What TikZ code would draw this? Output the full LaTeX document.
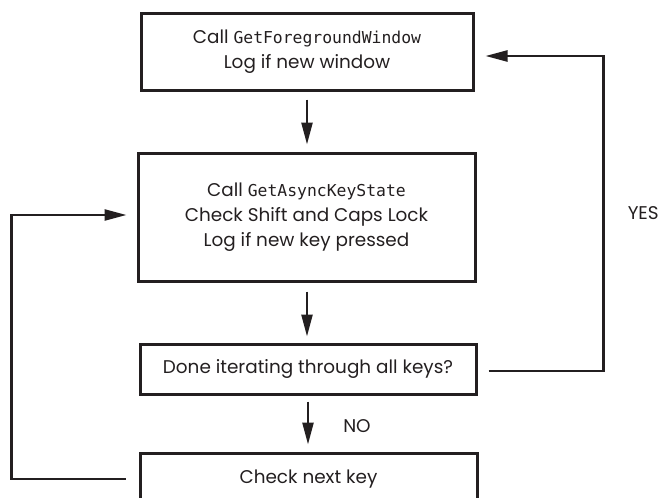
\documentclass[tikz,border=0pt]{standalone}
\usepackage{fontspec}
\setmainfont{Poppins}
\setmonofont{DejaVu Sans Mono}
\usetikzlibrary{calc,arrows.meta}
\definecolor{inkblack}{RGB}{35, 31, 32}
\newcommand{\apiname}[1]{{\ttfamily\fontsize{8.2}{12.5}\selectfont #1}}

\begin{document}
\begin{tikzpicture}[x=0.5pt, y=-0.5pt, inkblack,
    flowbox/.style={draw, line width=1.5pt, align=center, inner sep=0pt, font=\fontsize{9.2}{12.5}\selectfont},
    flow/.style={line width=1.25pt, -{Triangle[length=11pt, width=5.5pt]}},
    flowlabel/.style={inner sep=0pt, font=\fontsize{9.2}{12.5}\selectfont}]
    \useasboundingbox (0,0) rectangle (660,498);
    \clip (0,0) rectangle (660,498);
    \node (getfg) at (307,51.5) [flowbox, minimum width=166pt, minimum height=38.5pt] {Call \apiname{GetForegroundWindow}\\Log if new window};
    \node (getkey) at (306.5,217) [flowbox, minimum width=168.5pt, minimum height=64pt] {Call \apiname{GetAsyncKeyState}\\Check Shift and Caps Lock\\Log if new key pressed};
    \node (done) at (308,369) [flowbox, minimum width=168pt, minimum height=25pt] {Done iterating through all keys?};
    \node (next) at (308.5,479) [flowbox, minimum width=168.5pt, minimum height=26pt] {Check next key};
    \draw[flow, shorten <=4pt, shorten >=3.5pt] (getfg.south) -- (getfg.south |- getkey.north);
    \draw[flow, shorten <=4.5pt, shorten >=3pt] (getfg.south |- getkey.south) -- (getfg.south |- done.north);
    \draw[flow, shorten <=3pt, shorten >=3.5pt] (done.south) -- (done.south |- next.north)
        node[pos=0.55, right=17pt, flowlabel] (nolabel) {NO};
    \draw[flow, shorten <=5.5pt, shorten >=5.5pt] ($(done.east)+(0,2)$) -- ++(126,0)
        |- node[pos=0.25, right=11.5pt, flowlabel] (yeslabel) {YES} ($(getfg.east)+(0,4.5)$);
    \draw[flow, shorten <=6.5pt, shorten >=5pt] (next.west) -- ++(-127,0) |- ($(getkey.west)+(0,-2)$);
\end{tikzpicture}
\end{document}
